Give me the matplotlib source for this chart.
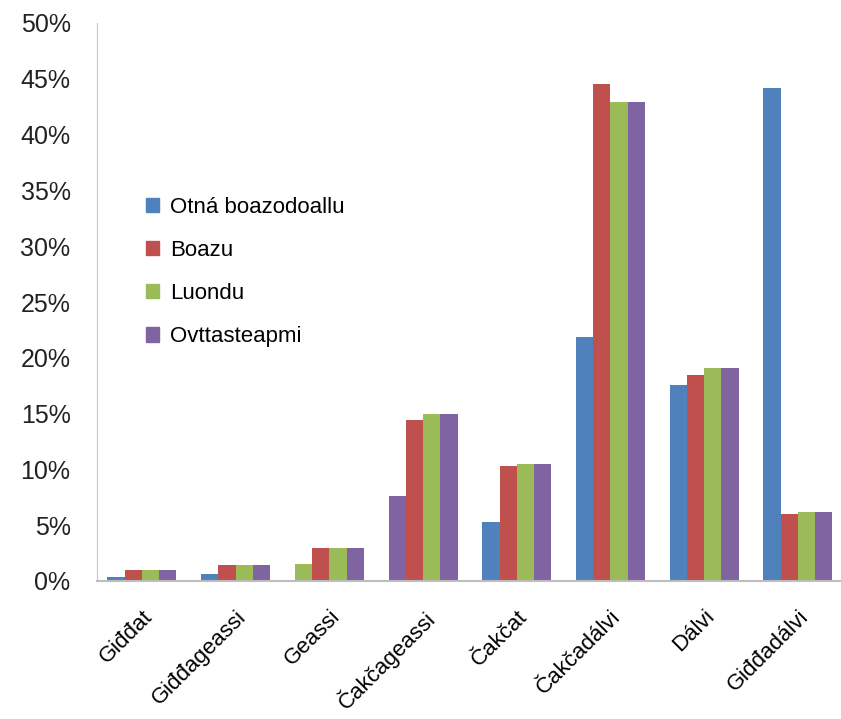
# seasonal shares per category, grouped bars
import numpy as np
import matplotlib.pyplot as plt
import matplotlib.patches as mpatches
from matplotlib.ticker import FuncFormatter

plt.rcParams['font.family'] = ['Liberation Sans', 'DejaVu Sans']

seasons = ['Giđđat', 'Giđđageassi', 'Geassi', 'Čakčageassi',
           'Čakčat', 'Čakčadálvi', 'Dálvi', 'Giđđadálvi']
series = ['Otná boazodoallu', 'Boazu', 'Luondu', 'Ovttasteapmi']

otna = [0.4, 0.6, 1.5, 7.6, 5.3, 21.9, 17.6, 44.2]
boazu = [1.0, 1.4, 3.0, 14.4, 10.3, 44.5, 18.5, 6.0]
luondu = [1.0, 1.4, 3.0, 15.0, 10.5, 42.9, 19.1, 6.2]
ovttas = [1.0, 1.4, 3.0, 15.0, 10.5, 42.9, 19.1, 6.2]

colors = ['#4F81BD', '#C0504D', '#9BBB59', '#8064A2']
# the source picture shows two of the first-series bars in other colours
odd_colors = {2: '#9BBB59', 3: '#8064A2'}

fig = plt.figure(figsize=(8.41, 7.19), dpi=100)
ax = fig.add_axes([97/841, 1-581/719, 1-97/841, (581-23)/719])

x = np.arange(len(seasons))
w = 0.184
data = [otna, boazu, luondu, ovttas]
for i, vals in enumerate(data):
    cols = [colors[i]] * len(vals)
    if i == 0:
        for k, c in odd_colors.items():
            cols[k] = c
    ax.bar(x + (i - 1.5) * w, np.array(vals) / 100, width=w, color=cols,
           edgecolor='none', zorder=2)

ax.set_ylim(0, 0.5)
ax.set_xlim(-0.48, -0.48 + 744/93.7)
ax.set_yticks(np.arange(0, 0.51, 0.05))
ax.yaxis.set_major_formatter(FuncFormatter(lambda v, p: '%d%%' % round(v*100)))
ax.tick_params(axis='y', length=0, pad=19, labelsize=18, labelcolor='#222222')
ax.set_xticks(x)
ax.set_xticklabels(seasons, rotation=45, ha='right', va='top',
                   rotation_mode='anchor', fontsize=16)
ax.tick_params(axis='x', length=0, pad=18)

for s in ['top', 'right']:
    ax.spines[s].set_visible(False)
ax.spines['left'].set_color('#c8c8c8')
ax.spines['bottom'].set_color('#bdbdbd')
ax.spines['bottom'].set_linewidth(1.5)

handles = [mpatches.Patch(color=c) for c in colors]
fig.legend(handles, series, loc='center left', bbox_to_anchor=(146/841, 1-272/719),
           frameon=False, fontsize=16, handlelength=0.6, handleheight=0.6,
           handletextpad=0.5, labelspacing=1.0, borderpad=0, borderaxespad=0)

plt.savefig('out.png')
